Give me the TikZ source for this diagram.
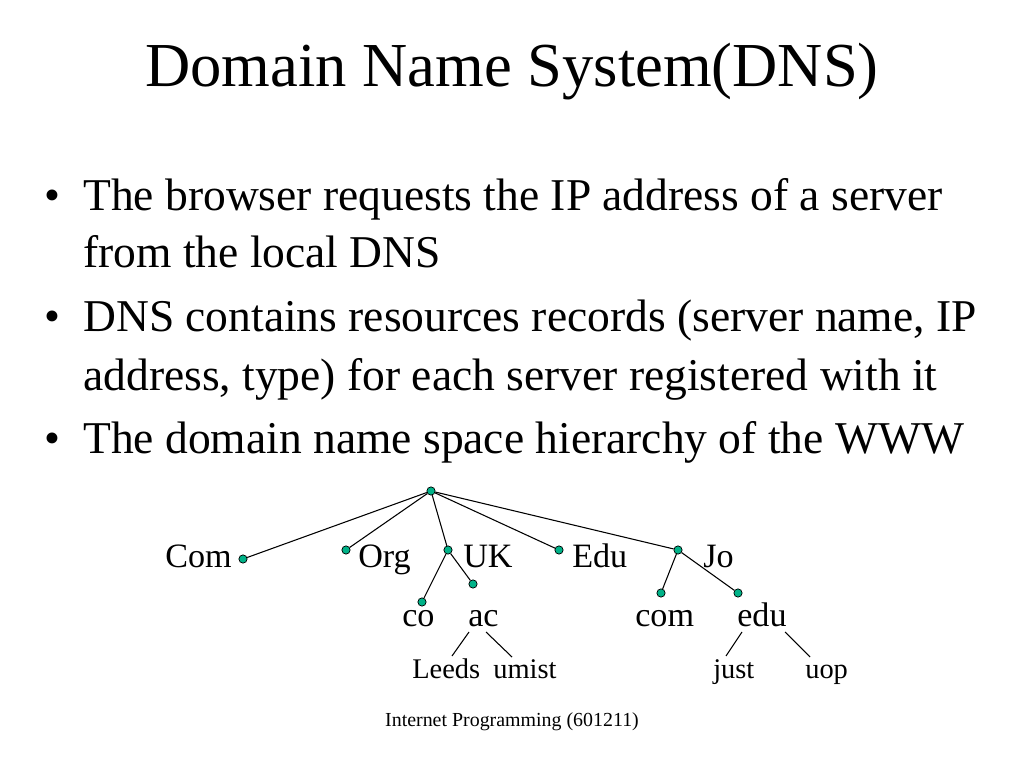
\documentclass[tikz,border=0pt]{standalone}
\usepackage{fontspec}
\setmainfont{Liberation Serif}
\definecolor{dnsgreen}{RGB}{0,178,136}
\begin{document}
\begin{tikzpicture}[x=0.703125pt,y=-0.703125pt,
  dot/.style={circle,draw=black,fill=dnsgreen,inner sep=0pt,minimum size=5.8pt,line width=0.5pt},
  lbl/.style={anchor=base west,inner sep=0pt},
  bul/.style={anchor=base,inner sep=0pt,font=\fontsize{32}{36}\selectfont},
  btxt/.style={anchor=base west,inner sep=0pt,font=\fontsize{32}{36}\selectfont},
  big/.style={lbl,font=\fontsize{24}{28}\selectfont},
  small/.style={lbl,font=\fontsize{20}{24}\selectfont},
  edge/.style={line width=0.75pt}]
\useasboundingbox (0,0) rectangle (1024,768);
\fill[white] (0,0) rectangle (1024,768);
% title
\node[anchor=base,inner sep=0pt,font=\fontsize{44}{50}\selectfont] (title) at (512,87) {Domain Name System(DNS)};
% bullets
\node[bul] (b1) at (52,211) {•};
\node[btxt] (t1a) at (83,211) {The browser requests the IP address of a server};
\node[btxt] (t1b) at (83,268) {from the local DNS};
\node[bul] (b2) at (52,332) {•};
\node[btxt] (t2a) at (83,332) {DNS contains resources records (server name, IP};
\node[btxt] (t2b) at (83,390) {address, type) for each server registered with it};
\node[bul] (b3) at (52,453) {•};
\node[btxt] (t3a) at (83,453) {The domain name space hierarchy of the WWW};
% tree dots
\node[dot] (root) at (431,491) {};
\node[dot] (dcom) at (243,559) {};
\node[dot] (dorg) at (346,550) {};
\node[dot] (duk) at (448,550) {};
\node[dot] (dco) at (422,602) {};
\node[dot] (dac) at (473,584) {};
\node[dot] (dedu) at (559,550) {};
\node[dot] (djo) at (678,550) {};
\node[dot] (djcom) at (661,593) {};
\node[dot] (djedu) at (738,593) {};
% edges
\draw[edge] (root) -- (dcom);
\draw[edge] (root) -- (dorg);
\draw[edge] (root) -- (duk);
\draw[edge] (root) -- (dedu);
\draw[edge] (root) -- (djo);
\draw[edge] (duk) -- (dco);
\draw[edge] (duk) -- (dac);
\draw[edge] (djo) -- (djcom);
\draw[edge] (djo) -- (djedu);
% labels
\node[big] (lcom) at (165,567) {Com};
\node[big] (lorg) at (358,567) {Org};
\node[big] (luk) at (463,567) {UK};
\node[big] (ledu) at (572,567) {Edu};
\node[big] (ljo) at (703,567) {Jo};
\node[big] (lco) at (402,626) {co};
\node[big] (lac) at (468,626) {ac};
\node[big] (ljcom) at (635,626) {com};
\node[big] (ljedu) at (737,626) {edu};
\node[small] (lleeds) at (412,678) {Leeds};
\node[small] (lumist) at (493,678) {umist};
\node[small] (ljust) at (713,678) {just};
\node[small] (luop) at (805,678) {uop};
% sub-branches without dots
\coordinate (a1s) at (469,632); \coordinate (a1e) at (452,656);
\coordinate (a2s) at (486,632); \coordinate (a2e) at (512,657);
\coordinate (e1s) at (742,632); \coordinate (e1e) at (726,656);
\coordinate (e2s) at (785,632); \coordinate (e2e) at (810,657);
\draw[edge] (a1s) -- (a1e);
\draw[edge] (a2s) -- (a2e);
\draw[edge] (e1s) -- (e1e);
\draw[edge] (e2s) -- (e2e);
% footer
\node[anchor=base,inner sep=0pt,font=\fontsize{14}{16}\selectfont] (foot) at (512,726) {Internet Programming (601211)};
\end{tikzpicture}
\end{document}
